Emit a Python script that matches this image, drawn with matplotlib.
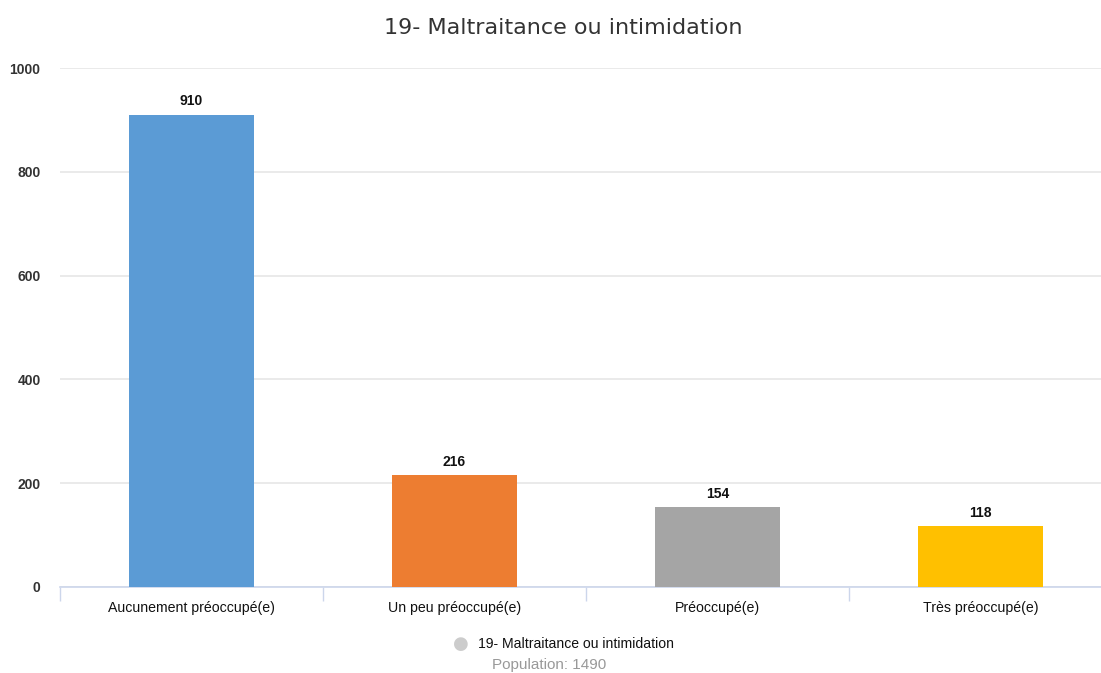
import matplotlib.pyplot as plt

# Chart data
categories = ['Aucunement préoccupé(e)', 'Un peu préoccupé(e)', 'Préoccupé(e)', 'Très préoccupé(e)']
values = [910, 216, 154, 118]
colors = ['#5B9BD5', '#ED7D31', '#A5A5A5', '#FFC000']
y_ticks = [0, 200, 400, 600, 800, 1000]
title = '19- Maltraitance ou intimidation'
population = 1490

W, H = 1101, 673
fig = plt.figure(figsize=(W / 100, H / 100), dpi=100)
ax = fig.add_axes([60 / W, (H - 587) / H, 1052 / W, (587 - 68) / H])

x = list(range(len(categories)))
ax.bar(x, values, width=0.475, color=colors, zorder=3)
for xi, v in zip(x, values):
    ax.text(xi, v + 12, str(v), ha='center', va='bottom', fontsize=10,
            fontweight='bold', family='Liberation Sans', color='#111111')

ax.set_xlim(-0.5, len(categories) - 0.5)
ax.set_ylim(0, 1000)
ax.set_yticks(y_ticks)
ax.set_yticklabels([str(t) for t in y_ticks], fontsize=10, fontweight='bold',
                   family='Liberation Sans', color='#333333')
ax.tick_params(axis='y', length=0, pad=14)
ax.yaxis.grid(True, color='#e6e6e6', linewidth=1.2, zorder=0)

# category labels, ticks on category boundaries
ax.set_xticks(x)
ax.set_xticklabels(categories, fontsize=10.2, family='Liberation Sans', color='#111111')
ax.tick_params(axis='x', length=0, pad=10)
ax.set_xticks([i - 0.5 for i in range(len(categories) + 1)], minor=True)
ax.tick_params(axis='x', which='minor', length=10, color='#ccd6eb', width=1)

for s in ['top', 'right', 'left']:
    ax.spines[s].set_visible(False)
ax.spines['bottom'].set_color('#ccd6eb')
ax.spines['bottom'].set_linewidth(1.2)

fig.text(563 / W, 1 - 28 / H, title, ha='center', va='center', fontsize=16,
         family='DejaVu Sans', color='#333333')

# legend
fig.text(461 / W, 1 - 644 / H, '\u25CF', ha='center', va='center', fontsize=13,
         color='#cccccc', family='DejaVu Sans')
fig.text(478 / W, 1 - 644 / H, title, ha='left', va='center', fontsize=10.1,
         family='Liberation Sans', color='#111111')
fig.text(549 / W, 1 - 665 / H, f'Population: {population}', ha='center', va='center',
         fontsize=11, family='Liberation Sans', color='#999999')

fig.savefig('out.png', dpi=100)
